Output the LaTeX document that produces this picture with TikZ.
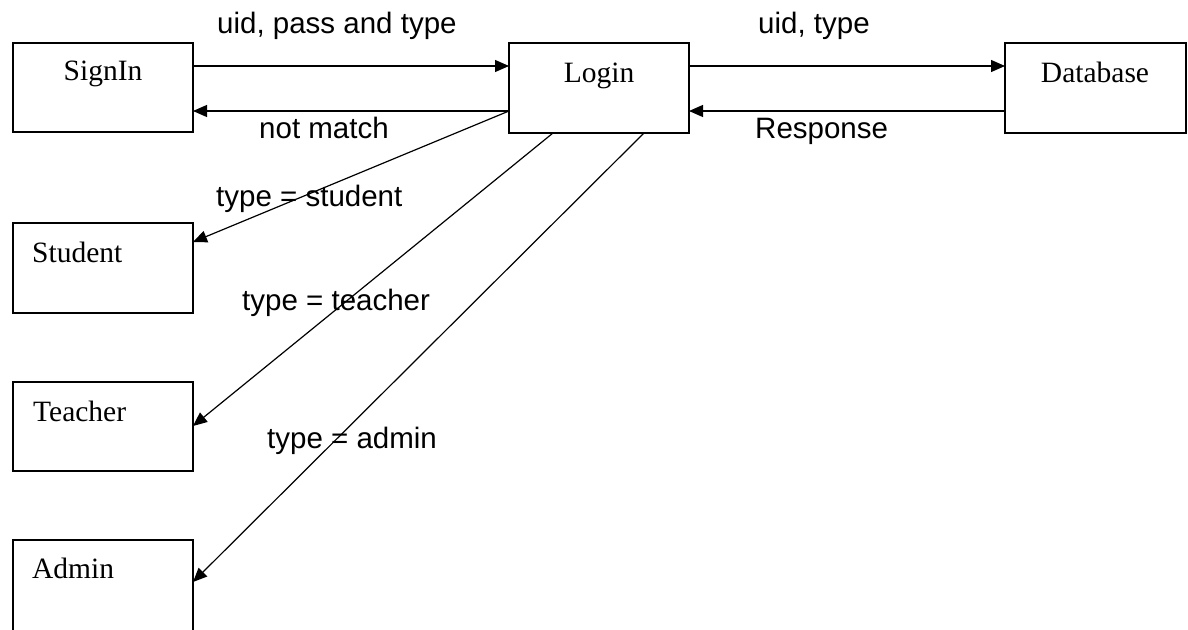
\documentclass[tikz,border=0pt]{standalone}
\usepackage{fontspec}
\setmainfont{Liberation Serif}
\newfontfamily\arialfont{Liberation Sans}
\usetikzlibrary{arrows.meta}
\begin{document}
\begin{tikzpicture}[x=1pt,y=-1pt,
  box/.style={draw, line width=1.5pt, minimum width=180pt, minimum height=89pt, inner sep=0pt, outer sep=0pt},
  boxtext/.style={font=\fontsize{29.5}{35}\selectfont, inner sep=0pt},
  lbl/.style={font=\arialfont\fontsize{29.5}{35}\selectfont, inner sep=0pt, anchor=base west},
  arr/.style={line width=1.2pt, -{Triangle[length=14pt,width=12pt]}}
]
\useasboundingbox (0,0) rectangle (1188,629);
\clip (0,0) rectangle (1188,629);
\fill[white] (0,0) rectangle (1188,629);

\node[box] (signin) at (103,87.5) {};
\node[box, minimum height=90pt] (login) at (599,88) {};
\node[box, minimum width=181pt, minimum height=90pt] (database) at (1095.5,88) {};
\node[box, minimum height=90pt] (student) at (103,268) {};
\node[box] (teacher) at (103,426.5) {};
\node[box, minimum height=110pt] (admin) at (103,595) {};

\node[boxtext, anchor=base] (tsignin) at (103,80) {SignIn};
\node[boxtext, anchor=base] (tlogin) at (599,82) {Login};
\node[boxtext, anchor=base] (tdatabase) at (1095,82) {Database};
\node[boxtext, anchor=base west] (tstudent) at (32,262) {Student};
\node[boxtext, anchor=base west] (tteacher) at (33,421) {Teacher};
\node[boxtext, anchor=base west] (tadmin) at (32,578) {Admin};

\draw[arr] ([yshift=-23pt]signin.north east) -- ([yshift=-23pt]login.north west);
\draw[arr] ([yshift=-68pt]login.north west) -- ([yshift=-68pt]signin.north east);
\draw[arr] ([yshift=-23pt]login.north east) -- ([yshift=-23pt]database.north west);
\draw[arr] ([yshift=-68pt]database.north west) -- ([yshift=-68pt]login.north east);
\draw[arr] ([yshift=-68pt]login.north west) -- ([yshift=-19pt]student.north east);
\draw[arr] ([xshift=44pt]login.south west) -- ([yshift=-44pt]teacher.north east);
\draw[arr] ([xshift=135pt]login.south west) -- ([yshift=-42pt]admin.north east);

\node[lbl] (l1) at (217,33) {uid, pass and type};
\node[lbl] (l2) at (758,33) {uid, type};
\node[lbl] (l3) at (259,138) {not match};
\node[lbl] (l4) at (755,138) {Response};
\node[lbl] (l5) at (216,206) {type = student};
\node[lbl] (l6) at (242,310) {type = teacher};
\node[lbl] (l7) at (267,448) {type = admin};
\end{tikzpicture}
\end{document}
